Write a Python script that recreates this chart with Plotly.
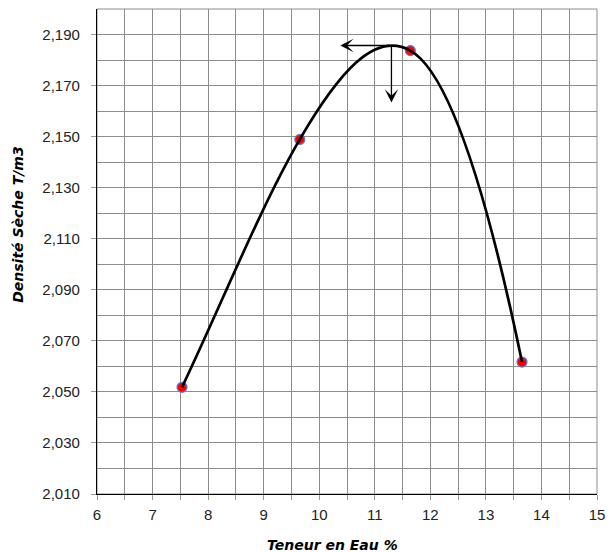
import plotly.graph_objects as go

# Data
teneur_eau = [7.53, 9.65, 11.64, 13.65]          # Teneur en eau (%)
densite_seche = [2.0518, 2.1489, 2.1837, 2.0617]  # Densité sèche (T/m3)
pentes_courbe = [0.0458, 0.0374, -0.0121, -0.105]
opt_teneur = 11.30     # optimum water content (peak of curve)
opt_densite = 2.1857   # max dry density
arrow_left_x = 10.38
arrow_down_y = 2.1634

fig = go.Figure()

fig.add_trace(go.Scatter(
    x=teneur_eau, y=densite_seche, mode="markers",
    marker=dict(color="#ff0000", size=10, line=dict(color="#5b7fd6", width=1.2)),
    hoverinfo="skip", showlegend=False))

# smoothed curve: cubic Hermite segments through the data points (drawn on the data axes)
path = f"M {teneur_eau[0]},{densite_seche[0]}"
for i in range(len(teneur_eau) - 1):
    x0, y0, x1, y1 = teneur_eau[i], densite_seche[i], teneur_eau[i + 1], densite_seche[i + 1]
    h = (x1 - x0) / 3
    path += (f" C {x0 + h},{y0 + pentes_courbe[i] * h}"
             f" {x1 - h},{y1 - pentes_courbe[i + 1] * h} {x1},{y1}")
fig.add_shape(type="path", path=path, xref="x", yref="y",
              line=dict(color="black", width=2.7), layer="above")

# arrows from the peak
for tip_x, tip_y in [(arrow_left_x, opt_densite), (opt_teneur, arrow_down_y)]:
    fig.add_annotation(x=tip_x, y=tip_y, ax=opt_teneur, ay=opt_densite,
                       xref="x", yref="y", axref="x", ayref="y", text="",
                       showarrow=True, arrowhead=3, arrowsize=1.7, arrowwidth=1.3,
                       arrowcolor="black")

title_font = dict(family="DejaVu Sans", size=14, color="black", weight="bold", style="italic")
tick_font = dict(family="Liberation Sans, Arial", size=15, color="#222")

fig.update_xaxes(
    range=[6, 15], tick0=6, dtick=1, ticks="outside", ticklen=5, tickcolor="#999",
    ticklabelstandoff=2,
    showgrid=True, gridcolor="#8c8c8c", gridwidth=1,
    minor=dict(dtick=0.5, showgrid=True, gridcolor="#8c8c8c", gridwidth=1,
               ticks="outside", ticklen=5, tickcolor="#999"),
    showline=True, linecolor="black", linewidth=1.3, mirror=False,
    tickfont=tick_font, zeroline=False)

fig.update_yaxes(
    range=[2.01, 2.2], tick0=2.01, dtick=0.02, tickformat=".3f",
    ticks="outside", ticklen=5, tickcolor="#999", ticklabelstandoff=8,
    showgrid=True, gridcolor="#8c8c8c", gridwidth=1,
    minor=dict(dtick=0.01, tick0=2.01, showgrid=True, gridcolor="#8c8c8c", gridwidth=1),
    showline=True, linecolor="black", linewidth=1.3,
    tickfont=tick_font, zeroline=False)

fig.add_annotation(text="Teneur en Eau %", xref="paper", yref="paper",
                   x=0.47, y=-0.105, showarrow=False, font=title_font,
                   xanchor="center", yanchor="middle")
fig.add_annotation(text="Densité Sèche T/m3", xref="paper", yref="paper",
                   x=-0.158, y=0.555, showarrow=False, font=title_font, textangle=-90,
                   xanchor="center", yanchor="middle")

fig.add_shape(type="rect", xref="paper", yref="paper", x0=0, y0=0, x1=1, y1=1,
              line=dict(color="#8c8c8c", width=1), layer="below")

fig.update_layout(
    width=614, height=552, separators=", ",
    margin=dict(l=97, r=11, t=9, b=58),
    plot_bgcolor="white", paper_bgcolor="white")

fig.write_html("out.html")
